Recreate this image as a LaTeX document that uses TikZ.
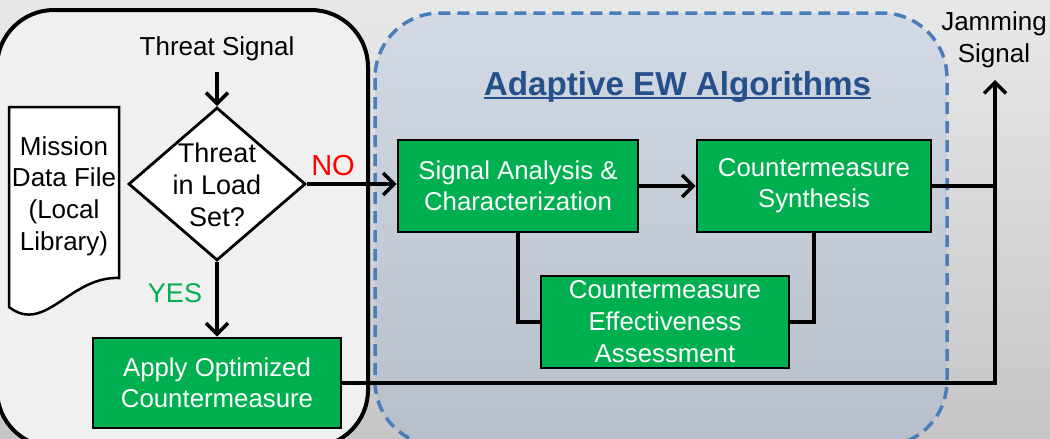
\documentclass[tikz,border=0pt]{standalone}
\usepackage{fontspec}
\setmainfont{Liberation Sans}
\usetikzlibrary{arrows.meta,shapes.geometric}
\definecolor{cmgreen}{HTML}{00B050}
\definecolor{titleblue}{HTML}{24508C}
\definecolor{dashblue}{HTML}{4A7EBB}
\definecolor{bgtop}{HTML}{E8E8E8}
\definecolor{bgbot}{HTML}{C6C6C6}
\definecolor{panelgrey}{HTML}{F0F0F0}
\definecolor{bluetop}{HTML}{D3DAE4}
\definecolor{bluebot}{HTML}{B6BECA}
\begin{document}
\begin{tikzpicture}[x=1pt,y=-1pt,
  conn/.style={line width=3.5pt},
  arr/.style={-{Straight Barb[length=11pt,width=22pt]}},
  gbox/.style={draw=black, line width=2.8pt, fill=cmgreen, text=white,
    align=center, font=\fontsize{25.8}{31}\selectfont, inner sep=0pt},
  lbl/.style={align=center, inner sep=0pt}]
\useasboundingbox (0,0) rectangle (1050,439);
\clip (0,0) rectangle (1050,439);
% backdrop
\shade[top color=bgtop, bottom color=bgbot] (0,0) rectangle (1050,439);
% on-board library panel
\draw[line width=4pt, fill=panelgrey, rounded corners=57pt] (-3,10) rectangle (368,447);
% adaptive algorithms panel
\draw[dashblue, line width=3.5pt, dash pattern=on 12pt off 7pt,
  top color=bluetop, bottom color=bluebot, rounded corners=65pt] (375,13) rectangle (947,446);
\node[font=\bfseries\fontsize{33.2}{36}\selectfont, text=titleblue, anchor=base, inner sep=0pt]
  (title) at (677.5,95) {Adaptive EW Algorithms};
\draw[titleblue, line width=2.2pt] ([yshift=-3pt]title.base west) -- ([yshift=-3pt]title.base east);

% mission data file (document shape)
\draw[line width=2.5pt, fill=white] (9,107) -- (119,107) -- (119,278)
  .. controls (70,276) and (45,335) .. (9,307) -- cycle;
\node[lbl, font=\fontsize{26}{31.7}\selectfont] (mdf) at (64,196) {Mission\\Data File\\(Local\\Library)};

% decision
\node[lbl, font=\fontsize{26}{30}\selectfont, anchor=base] (ts) at (217,55) {Threat Signal};
\node[diamond, draw, line width=2.8pt, fill=white, minimum width=177pt, minimum height=153pt,
  inner sep=0pt] (dia) at (217,184) {};
\node[lbl, font=\fontsize{27}{32}\selectfont] (diatext) at (217,185) {Threat\\in Load\\Set?};
\node[lbl, text=red, font=\fontsize{29}{32}\selectfont, anchor=base] (no) at (333,175) {NO};
\node[lbl, text=cmgreen, font=\fontsize{27}{32}\selectfont, anchor=base] (yes) at (175,302) {YES};

% process boxes
\node[gbox, minimum width=248pt, minimum height=90pt] (apply) at (217,383) {Apply Optimized\\Countermeasure};
\node[gbox, minimum width=240pt, minimum height=92pt] (sa) at (518,186) {Signal Analysis \&\\Characterization};
\node[gbox, minimum width=234pt, minimum height=92pt] (cs) at (814,186) {Countermeasure\\Synthesis};
\node[gbox, minimum width=248pt, minimum height=92pt, font=\fontsize{25.8}{32}\selectfont]
  (cea) at (665,322) {Countermeasure\\Effectiveness\\Assessment};

% output
\node[lbl, font=\fontsize{26}{32}\selectfont] (jam) at (994,39.5) {Jamming\\Signal};
\coordinate (jtip) at (995,80);

% connectors
\draw[conn, arr, shorten <=11pt] (ts.south) -- (dia.north);
\draw[conn, arr] (dia.east) -- (dia.east -| sa.west);
\draw[conn, arr] (dia.south) -- (apply.north);
\draw[conn, arr] (sa.east) -- (cs.west);
\draw[conn] (sa.south) |- (cea.west);
\draw[conn] (cs.south) |- (cea.east);
\draw[conn] (cs.east) -- (cs.east -| jtip);
\draw[conn, arr] (apply.east) -| (jtip);
\end{tikzpicture}
\end{document}
